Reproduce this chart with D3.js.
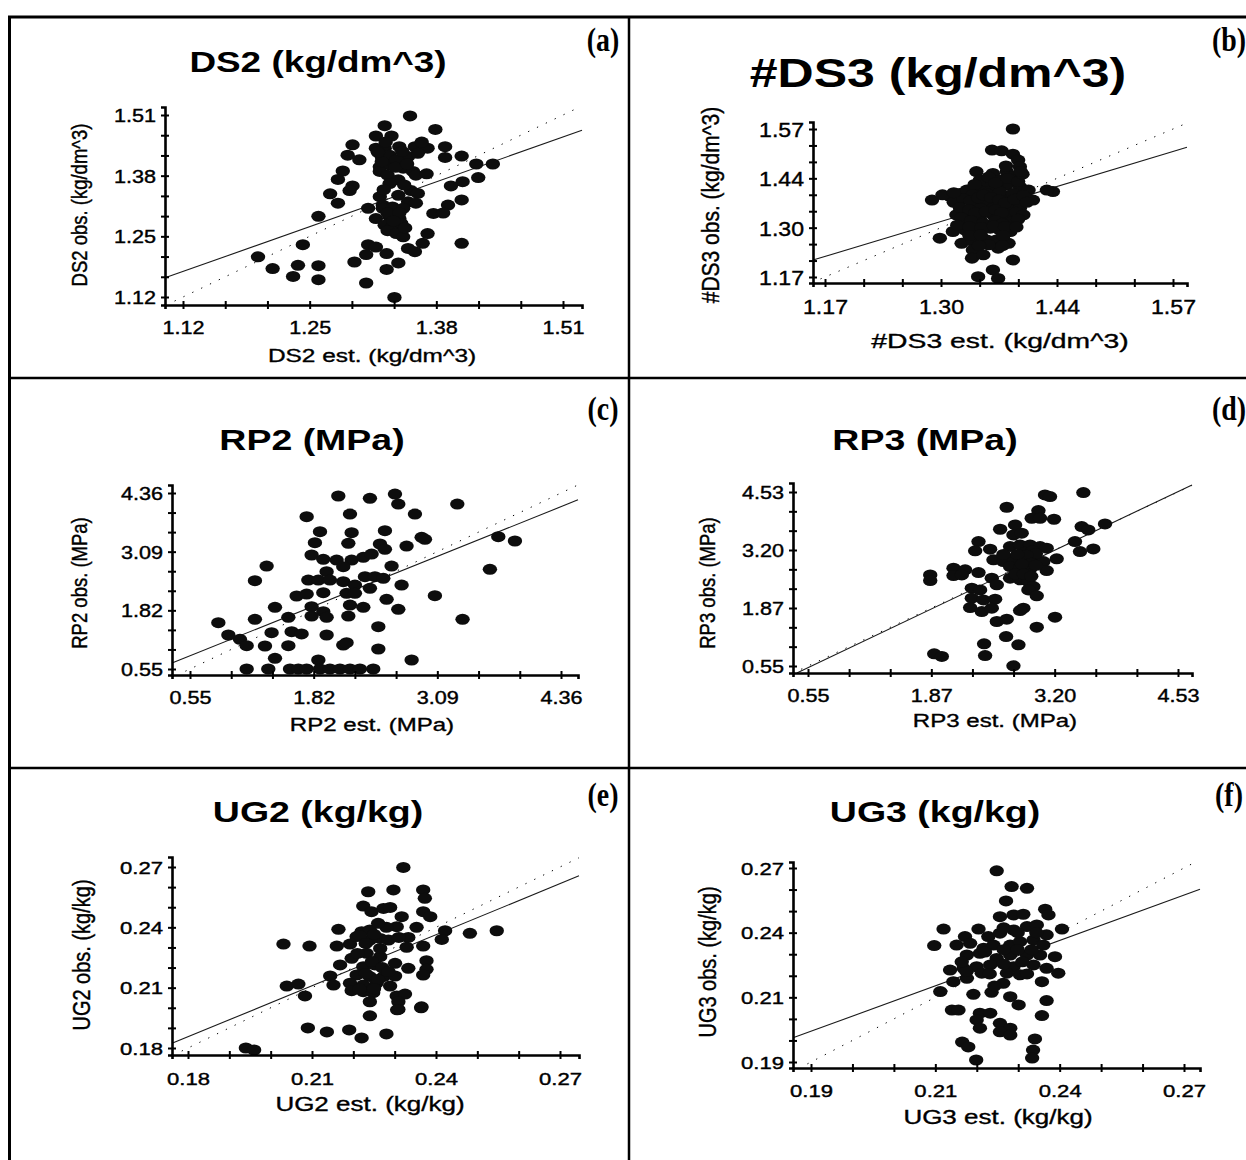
<!DOCTYPE html>
<html>
<head>
<meta charset="utf-8">
<script src="https://cdn.jsdelivr.net/npm/d3@7"></script>
<style>
  body { margin: 0; background: #fff; }
  svg { display: block; }
  text { font-family: "Liberation Sans", Arial, sans-serif; fill: #000; }
</style>
</head>
<body>
<svg id="fig"></svg>
<script>
// panel titles, tags and axis names
const titles = ['DS2 (kg/dm^3)', '#DS3 (kg/dm^3)', 'RP2 (MPa)', 'RP3 (MPa)', 'UG2 (kg/kg)', 'UG3 (kg/kg)'];
const tags = ['(a)', '(b)', '(c)', '(d)', '(e)', '(f)'];
const xNames = ['DS2 est. (kg/dm^3)', '#DS3 est. (kg/dm^3)', 'RP2 est. (MPa)', 'RP3 est. (MPa)', 'UG2 est. (kg/kg)', 'UG3 est. (kg/kg)'];
const yNames = ['DS2 obs. (kg/dm^3)', '#DS3 obs. (kg/dm^3)', 'RP2 obs. (MPa)', 'RP3 obs. (MPa)', 'UG2 obs. (kg/kg)', 'UG3 obs. (kg/kg)'];

// first labelled tick and step between labelled ticks (same on both axes)
const tickStart = [1.12, 1.17, 0.55, 0.546, 0.18, 0.18667];
const tickStep = [0.13, 0.13333, 1.27, 1.328, 0.03, 0.026667];

// fitted lines: [intercept, slope]
const fits = [[0.347, 0.739], [0.396, 0.709], [0.371, 0.847], [-0.045, 1.012], [0.0333, 0.846], [0.0683, 0.702]];

// [estimated, observed]
const ds2 = [
  [1.353,1.508],[1.327,1.487],[1.379,1.479],[1.318,1.465],[1.334,1.465],[1.294,1.446],[1.318,1.439],[1.327,1.439],
  [1.342,1.442],[1.358,1.442],[1.371,1.439],[1.389,1.442],[1.289,1.424],[1.301,1.414],[1.324,1.421],[1.332,1.424],
  [1.351,1.421],[1.361,1.428],[1.389,1.419],[1.406,1.422],[1.322,1.399],[1.332,1.403],[1.346,1.396],[1.356,1.389],
  [1.284,1.390],[1.279,1.372],[1.322,1.389],[1.330,1.381],[1.341,1.371],[1.359,1.381],[1.370,1.384],[1.421,1.405],
  [1.438,1.405],[1.407,1.367],[1.395,1.358],[1.423,1.376],[1.294,1.358],[1.291,1.348],[1.271,1.341],[1.279,1.321],
  [1.322,1.335],[1.341,1.338],[1.354,1.348],[1.361,1.342],[1.325,1.317],[1.335,1.313],[1.351,1.324],[1.359,1.321],
  [1.310,1.310],[1.392,1.317],[1.406,1.328],[1.377,1.299],[1.387,1.300],[1.259,1.293],[1.318,1.288],[1.332,1.292],
  [1.342,1.288],[1.327,1.274],[1.335,1.270],[1.344,1.278],[1.330,1.262],[1.339,1.256],[1.346,1.249],[1.371,1.256],
  [1.366,1.235],[1.406,1.235],[1.243,1.232],[1.310,1.232],[1.318,1.227],[1.308,1.211],[1.329,1.213],[1.351,1.224],
  [1.358,1.217],[1.197,1.206],[1.212,1.181],[1.238,1.188],[1.259,1.187],[1.233,1.164],[1.259,1.157],[1.296,1.195],
  [1.341,1.193],[1.329,1.179],[1.308,1.150],[1.337,1.119],[1.324,1.410],[1.339,1.414],[1.332,1.363],[1.325,1.310],
  [1.335,1.310],[1.346,1.310],[1.339,1.285],[1.320,1.430],[1.328,1.452],[1.345,1.432],[1.365,1.452],[1.338,1.398],
  [1.350,1.405],[1.330,1.300],[1.342,1.300],[1.336,1.283],[1.348,1.268],[1.326,1.350],[1.347,1.360]
];
const ds3 = [
  [1.386,1.570],[1.362,1.513],[1.373,1.511],[1.386,1.502],[1.392,1.486],[1.394,1.468],[1.344,1.455],[1.363,1.450],
  [1.379,1.455],[1.386,1.441],[1.293,1.378],[1.314,1.387],[1.325,1.396],[1.333,1.405],[1.348,1.410],[1.363,1.414],
  [1.379,1.419],[1.394,1.414],[1.404,1.405],[1.409,1.378],[1.432,1.401],[1.425,1.405],[1.321,1.338],[1.333,1.347],
  [1.344,1.365],[1.356,1.374],[1.367,1.383],[1.379,1.387],[1.386,1.365],[1.394,1.356],[1.333,1.320],[1.348,1.329],
  [1.363,1.338],[1.379,1.338],[1.386,1.320],[1.317,1.293],[1.331,1.297],[1.344,1.297],[1.360,1.302],[1.371,1.297],
  [1.383,1.293],[1.302,1.275],[1.327,1.261],[1.340,1.266],[1.356,1.270],[1.367,1.270],[1.381,1.261],[1.340,1.243],
  [1.369,1.248],[1.339,1.221],[1.352,1.230],[1.386,1.216],[1.346,1.171],[1.363,1.189],[1.369,1.166],[1.340,1.392],
  [1.356,1.396],[1.371,1.401],[1.386,1.396],[1.348,1.356],[1.363,1.356],[1.379,1.356],[1.356,1.428],[1.371,1.432],
  [1.348,1.432],[1.318,1.372],[1.329,1.381],[1.337,1.376],[1.346,1.384],[1.352,1.392],[1.361,1.385],[1.370,1.378],
  [1.377,1.370],[1.388,1.380],[1.398,1.390],[1.402,1.372],[1.325,1.358],[1.336,1.352],[1.343,1.343],[1.355,1.347],
  [1.366,1.352],[1.373,1.344],[1.390,1.345],[1.398,1.338],[1.327,1.330],[1.338,1.322],[1.352,1.315],[1.366,1.322],
  [1.374,1.314],[1.392,1.326],[1.322,1.310],[1.336,1.306],[1.350,1.304],[1.364,1.308],[1.377,1.306],[1.390,1.305],
  [1.342,1.420],[1.358,1.440],[1.366,1.425],[1.380,1.436],[1.392,1.428],[1.397,1.448],[1.378,1.470],[1.395,1.455],
  [1.336,1.282],[1.349,1.284],[1.375,1.282],[1.358,1.257],[1.374,1.255],[1.347,1.255],[1.305,1.392],[1.318,1.398]
];
const rp2 = [
  [2.073,4.295],[2.398,4.244],[2.655,4.338],[2.689,4.121],[3.295,4.121],[1.748,3.847],[2.193,3.905],[2.860,3.905],
  [1.885,3.523],[2.210,3.501],[2.552,3.544],[1.833,3.284],[2.176,3.270],[2.501,3.256],[2.552,3.140],[2.774,3.212],
  [2.929,3.400],[2.963,3.357],[1.799,3.018],[1.919,2.924],[2.056,2.909],[2.210,2.909],[2.330,2.967],[2.415,3.039],
  [1.337,2.779],[2.124,2.765],[2.620,2.779],[3.716,3.414],[3.887,3.321],[3.630,2.707],[1.217,2.462],[1.953,2.657],
  [1.765,2.476],[1.868,2.476],[1.987,2.476],[2.124,2.440],[2.244,2.368],[2.347,2.549],[2.449,2.549],[2.535,2.512],
  [2.398,2.296],[2.723,2.368],[1.919,2.202],[2.158,2.188],[2.244,2.188],[1.645,2.130],[1.748,2.173],[3.065,2.137],
  [1.423,1.885],[1.799,1.899],[1.919,1.791],[2.193,1.935],[2.330,1.885],[2.569,2.058],[2.689,1.841],[0.841,1.553],
  [1.217,1.625],[1.560,1.668],[1.799,1.697],[1.953,1.668],[2.176,1.697],[3.349,1.625],[0.944,1.286],[1.063,1.192],
  [1.388,1.336],[1.594,1.358],[1.696,1.308],[1.953,1.286],[2.484,1.466],[1.132,1.055],[1.320,1.048],[1.560,1.055],
  [2.124,1.069],[2.158,1.120],[2.484,0.983],[1.423,0.781],[1.868,0.745],[2.826,0.745],[1.132,0.550],[1.354,0.550],
  [1.577,0.550],[1.662,0.550],[1.748,0.550],[1.885,0.550],[1.987,0.550],[2.090,0.550],[2.193,0.550],[2.295,0.550],
  [2.432,0.550]
];
const rp3 = [
  [3.098,4.463],[3.152,4.425],[3.511,4.516],[2.686,4.181],[3.027,4.105],[2.955,3.929],[3.045,3.929],[3.195,3.906],
  [2.776,3.777],[2.615,3.677],[2.758,3.548],[2.847,3.586],[3.493,3.738],[3.564,3.662],[3.744,3.799],[2.382,3.395],
  [3.421,3.395],[2.346,3.182],[2.507,3.220],[2.722,3.281],[2.830,3.319],[2.937,3.319],[3.045,3.281],[3.116,3.243],
  [3.475,3.166],[3.618,3.227],[2.543,2.976],[2.650,2.938],[2.758,3.014],[2.865,3.052],[2.973,3.014],[3.224,2.999],
  [3.080,2.938],[2.113,2.785],[2.238,2.747],[2.382,2.686],[2.722,2.823],[2.830,2.785],[2.937,2.762],[3.116,2.732],
  [1.862,2.632],[1.862,2.503],[2.113,2.617],[2.202,2.632],[2.525,2.556],[2.579,2.404],[2.722,2.556],[2.830,2.518],
  [2.919,2.480],[2.973,2.365],[2.310,2.327],[2.399,2.289],[2.919,2.289],[3.009,2.152],[2.310,2.098],[2.435,2.060],
  [2.561,2.076],[2.292,1.885],[2.417,1.793],[2.525,1.870],[2.865,1.870],[2.830,1.816],[2.579,1.565],[2.686,1.618],
  [3.206,1.664],[3.009,1.435],[2.679,1.221],[2.442,1.053],[2.812,1.031],[1.905,0.825],[1.987,0.764],[2.453,0.786],
  [2.758,0.550],[2.880,3.150],[2.960,3.180],[3.000,3.120],[2.900,3.080],[2.800,3.100],[2.950,2.900],[2.850,2.880],
  [3.000,2.850],[2.780,2.650],[2.870,2.650],[2.950,2.600],[2.650,3.100]
];
const ug2 = [
  [0.2321,0.2698],[0.2236,0.2577],[0.2297,0.2586],[0.2369,0.2586],[0.2373,0.2544],[0.2224,0.2506],[0.2244,0.2478],
  [0.2273,0.2494],[0.2289,0.2499],[0.2369,0.2478],[0.2386,0.2453],[0.2317,0.2453],[0.2164,0.2390],[0.2220,0.2378],
  [0.2240,0.2387],[0.2305,0.2403],[0.2353,0.2400],[0.2422,0.2383],[0.2482,0.2370],[0.2547,0.2383],[0.2031,0.2317],
  [0.2094,0.2307],[0.2160,0.2307],[0.2192,0.2317],[0.2208,0.2354],[0.2240,0.2337],[0.2265,0.2345],[0.2285,0.2337],
  [0.2333,0.2350],[0.2329,0.2301],[0.2369,0.2307],[0.2414,0.2340],[0.2196,0.2246],[0.2232,0.2271],[0.2265,0.2254],
  [0.2301,0.2221],[0.2377,0.2234],[0.2168,0.2213],[0.2224,0.2204],[0.2252,0.2213],[0.2333,0.2196],[0.2377,0.2191],
  [0.2144,0.2158],[0.2208,0.2163],[0.2240,0.2155],[0.2273,0.2155],[0.2301,0.2158],[0.2369,0.2163],[0.2039,0.2108],
  [0.2067,0.2118],[0.2152,0.2113],[0.2192,0.2122],[0.2224,0.2113],[0.2256,0.2122],[0.2289,0.2108],[0.2083,0.2059],
  [0.2196,0.2085],[0.2224,0.2080],[0.2248,0.2075],[0.2240,0.2030],[0.2305,0.2059],[0.2325,0.2068],[0.2309,0.2030],
  [0.2365,0.2005],[0.2309,0.1992],[0.1940,0.1800],[0.1960,0.1790],[0.2090,0.1900],[0.2136,0.1880],[0.2190,0.1890],
  [0.2220,0.1850],[0.2280,0.1870],[0.2240,0.1960],[0.2306,0.1990],[0.2364,0.2000],[0.2215,0.2360],[0.2250,0.2365],
  [0.2230,0.2320],[0.2265,0.2295],[0.2210,0.2270],[0.2245,0.2230],[0.2270,0.2200],[0.2230,0.2170],[0.2260,0.2140],
  [0.2215,0.2095],[0.2250,0.2095],[0.2285,0.2180],[0.2310,0.2350],[0.2280,0.2400],[0.2260,0.2420]
];
const ug3 = [
  [0.2265,0.2655],[0.2297,0.2590],[0.2330,0.2583],[0.2285,0.2531],[0.2369,0.2497],[0.2376,0.2473],[0.2272,0.2466],
  [0.2301,0.2473],[0.2322,0.2476],[0.2151,0.2415],[0.2226,0.2415],[0.2405,0.2415],[0.2197,0.2384],[0.2247,0.2384],
  [0.2272,0.2398],[0.2301,0.2411],[0.2330,0.2425],[0.2351,0.2432],[0.2372,0.2391],[0.2131,0.2347],[0.2179,0.2349],
  [0.2208,0.2356],[0.2237,0.2336],[0.2258,0.2349],[0.2294,0.2349],[0.2315,0.2363],[0.2344,0.2370],[0.2365,0.2349],
  [0.2390,0.2301],[0.2201,0.2308],[0.2229,0.2315],[0.2265,0.2294],[0.2294,0.2308],[0.2330,0.2308],[0.2358,0.2308],
  [0.2165,0.2246],[0.2194,0.2253],[0.2222,0.2260],[0.2251,0.2267],[0.2301,0.2260],[0.2344,0.2267],[0.2372,0.2253],
  [0.2397,0.2233],[0.2172,0.2198],[0.2201,0.2212],[0.2233,0.2233],[0.2287,0.2233],[0.2315,0.2226],[0.2362,0.2198],
  [0.2279,0.2191],[0.2144,0.2157],[0.2215,0.2146],[0.2254,0.2154],[0.2294,0.2136],[0.2312,0.2102],[0.2372,0.2120],
  [0.2169,0.2081],[0.2183,0.2081],[0.2229,0.2068],[0.2251,0.2068],[0.2362,0.2058],[0.2222,0.2040],[0.2272,0.2026],
  [0.2294,0.2006],[0.2229,0.2006],[0.2191,0.1949],[0.2204,0.1929],[0.2221,0.1875],[0.2272,0.1991],[0.2294,0.1978],
  [0.2347,0.1962],[0.2343,0.1916],[0.2341,0.1883],[0.2240,0.2320],[0.2280,0.2330],[0.2310,0.2330],[0.2340,0.2330],
  [0.2320,0.2280],[0.2280,0.2270],[0.2250,0.2230],[0.2200,0.2240],[0.2330,0.2230],[0.2310,0.2400],[0.2280,0.2420],
  [0.2350,0.2400],[0.2260,0.2180],[0.2190,0.2280]
];
const points = [ds2, ds3, rp2, rp3, ug2, ug3];

// pixel layout of each panel: axis box, pixel spots of first/last labelled tick, text spots
const layout = [
  {L:165, R:582, T:107, B:305, px:[183,563], py:[297,115], title:[318,72,30,1.23], tag:[603,51], xName:[372,362], yName:[80,205], tf:18, nf:18.5, tsx:1.2, nsx:1.32, xt:334},
  {L:813, R:1187, T:122, B:283, px:[825,1173], py:[277,129], title:[938,87,40,1.25], tag:[1229,51], xName:[1000,348], yName:[711,205], tf:21, nf:21, tsx:1.1, nsx:1.35, xt:314},
  {L:172, R:578, T:485, B:675, px:[190,561], py:[669,493], title:[312,450,30,1.25], tag:[603,420], xName:[372,731], yName:[80,583], tf:18, nf:18.5, tsx:1.2, nsx:1.3, xt:704},
  {L:793, R:1192, T:483, B:673, px:[808,1178], py:[666,492], title:[925,450,30,1.25], tag:[1229,420], xName:[995,727], yName:[708,583], tf:18, nf:18.5, tsx:1.2, nsx:1.3, xt:702},
  {L:172, R:579, T:857, B:1055, px:[188,560], py:[1048,867], title:[318,822,30,1.25], tag:[603,806], xName:[370,1111], yName:[82,955], tf:17, nf:20, tsx:1.3, nsx:1.3, xt:1085},
  {L:793, R:1200, T:862, B:1068, px:[811,1184], py:[1062,868], title:[935,822,30,1.25], tag:[1229,806], xName:[998,1124], yName:[708,962], tf:17, nf:20, tsx:1.3, nsx:1.3, xt:1097}
];

const W = 1246, H = 1160;
const svg = d3.select('#fig').attr('width', W).attr('height', H);
const fmt = d3.format('.2f');

// frame around the six panels
const frame = svg.append('g').attr('stroke', '#000');
frame.append('line').attr('x1', 8).attr('x2', W).attr('y1', 17).attr('y2', 17).attr('stroke-width', 3);
frame.append('line').attr('x1', 9.5).attr('x2', 9.5).attr('y1', 16).attr('y2', H).attr('stroke-width', 3);
frame.append('line').attr('x1', 629).attr('x2', 629).attr('y1', 16).attr('y2', H).attr('stroke-width', 2.5);
[378, 768].forEach(yy => frame.append('line').attr('x1', 8).attr('x2', W).attr('y1', yy).attr('y2', yy).attr('stroke-width', 2.5));

function label(g, x, y, str, size, sx, opts = {}) {
  return g.append('text')
    .attr('transform', `translate(${x},${y}) scale(${sx},1)` + (opts.rot ? ' rotate(-90)' : ''))
    .attr('text-anchor', opts.anchor || 'middle')
    .attr('dy', opts.dy || 0)
    .style('font-size', size + 'px')
    .style('font-weight', opts.bold ? 'bold' : 'normal')
    .style('font-family', opts.family || null)
    .attr('stroke', opts.bold ? 'none' : '#000')
    .attr('stroke-width', 0.35)
    .text(str);
}

layout.forEach((p, i) => {
  const g = svg.append('g');
  const t0 = tickStart[i], step = tickStep[i];
  const x = d3.scaleLinear().domain([t0, t0 + 3 * step]).range(p.px);
  const y = d3.scaleLinear().domain([t0, t0 + 3 * step]).range(p.py);
  x.domain([x.invert(p.L), x.invert(p.R)]).range([p.L, p.R]);
  y.domain([y.invert(p.B), y.invert(p.T)]).range([p.B, p.T]);
  const ticks = d3.range(10).map(k => t0 + k * step / 3);
  const [xlo, xhi] = x.domain(), [ylo, yhi] = y.domain();

  // 1:1 line (dotted)
  const lo = Math.max(xlo, ylo), hi = Math.min(xhi, yhi);
  const d0 = lo + 0.02 * (hi - lo);
  g.append('path')
    .attr('d', d3.line()([[x(d0), y(d0)], [x(hi), y(hi)]]))
    .attr('stroke', '#000').attr('stroke-width', 1).attr('stroke-dasharray', '1.3,8.5').attr('fill', 'none');

  // fitted line (solid)
  const [a, b] = fits[i];
  const fx0 = Math.max(xlo, (ylo - a) / b), fx1 = Math.min(xhi, (yhi - a) / b);
  g.append('path')
    .attr('d', d3.line()([[x(fx0), y(a + b * fx0)], [x(fx1), y(a + b * fx1)]]))
    .attr('stroke', '#1a1a1a').attr('stroke-width', 1.1).attr('fill', 'none');

  // points
  g.append('g').selectAll('ellipse')
    .data(points[i])
    .join('ellipse')
      .attr('cx', d => x(d[0]))
      .attr('cy', d => y(d[1]))
      .attr('rx', 7.2)
      .attr('ry', 5.5)
      .attr('fill', '#0d0d0d');

  // axes
  const xa = g.append('g').attr('transform', `translate(0,${p.B})`)
    .call(d3.axisBottom(x).tickValues(ticks).tickSizeOuter(0).tickSize(4).tickFormat((d, k) => k % 3 ? '' : fmt(d)));
  const ya = g.append('g').attr('transform', `translate(${p.L},0)`)
    .call(d3.axisLeft(y).tickValues(ticks).tickSizeOuter(0).tickSize(4).tickFormat((d, k) => k % 3 ? '' : fmt(d)));
  [xa, ya].forEach(ax => {
    ax.select('.domain').attr('stroke', '#000').attr('stroke-width', 2.6);
    ax.selectAll('.tick line').attr('stroke', '#000').attr('stroke-width', 2);
    ax.selectAll('text')
      .style('font-family', '"Liberation Sans", Arial, sans-serif')
      .style('font-size', p.tf + 'px')
      .attr('fill', '#000')
      .attr('stroke', '#000')
      .attr('stroke-width', 0.4);
  });
  xa.selectAll('.tick line').attr('y1', -4).attr('y2', 4);
  ya.selectAll('.tick line').attr('x1', -4).attr('x2', 4);
  xa.selectAll('text').attr('y', p.xt - p.B).attr('dy', 0).attr('transform', `scale(${p.tsx},1)`);
  ya.selectAll('text').attr('x', -9 / p.tsx).attr('dy', '0.36em').attr('transform', `scale(${p.tsx},1)`);

  // texts
  label(g, p.title[0], p.title[1], titles[i], p.title[2], p.title[3], {bold: true});
  label(g, p.tag[0], p.tag[1], tags[i], 34, 0.82, {bold: true, family: '"Liberation Serif", serif'});
  label(g, p.xName[0], p.xName[1], xNames[i], p.nf, p.nsx);
  label(g, p.yName[0], p.yName[1], yNames[i], p.nf, 1.15, {rot: true, dy: '0.35em'});
});
</script>
</body>
</html>
